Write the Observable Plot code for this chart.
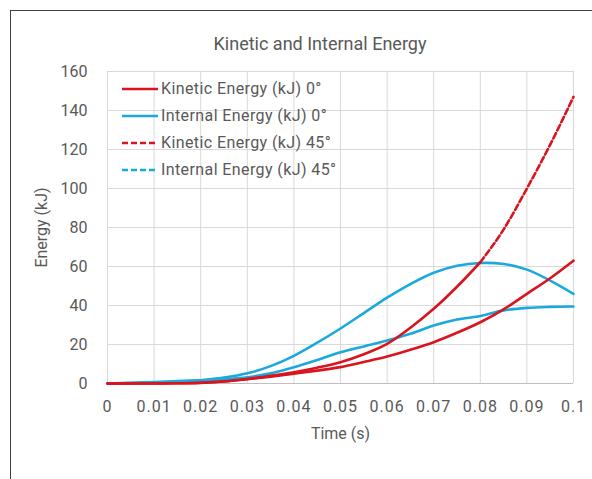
<!DOCTYPE html>
<html>
<head>
<meta charset="utf-8">
<script src="https://cdn.jsdelivr.net/npm/d3@7"></script>
<script src="https://cdn.jsdelivr.net/npm/@observablehq/plot@0.6"></script>
<style>
  html, body { margin: 0; padding: 0; background: #fff; overflow: hidden; }
  #wrap { position: relative; width: 592px; height: 479px; font-family: Roboto, "Noto Sans", sans-serif; color: #595959; }
  #frame { position: absolute; left: 10px; top: 10px; width: 600px; height: 500px; border: 1.5px solid #404040; box-sizing: border-box; }
  #title { position: absolute; left: 0; width: 640px; top: 33px; text-align: center; font-size: 18px; color: #595959; }
  #legend { position: absolute; left: 122px; top: 75px; font-size: 16px; letter-spacing: 0.4px; color: #595959; }
  .row { height: 27px; display: flex; align-items: center; white-space: nowrap; }
  .row svg { margin-right: 3px; }
  #chart { position: absolute; left: 0; top: 0; }
  #chart svg g[aria-label="x-axis tick label"] text { letter-spacing: 1px; }
</style>
</head>
<body>
<div id="wrap">
  <div id="chart"></div>
  <div id="frame"></div>
  <div id="title">Kinetic and Internal Energy</div>
  <div id="legend"></div>
</div>
<script>
const time = [0,0.005,0.01,0.015,0.02,0.025,0.03,0.035,0.04,0.045,0.05,0.055,0.06,0.065,0.07,0.075,0.08,0.085,0.09,0.095,0.1];
const kinetic0   = [0,0,0,0.1,0.4,1.1,2.2,3.5,5,6.6,8.4,11,13.8,17.3,21.2,26,31.4,38,46,54,63];
const internal0  = [0,0.2,0.5,1,1.7,3,5.2,8.9,14.2,20.9,28.2,36.1,44,51,56.8,60.4,61.8,61.3,58.4,52.8,46];
const kinetic45  = [0,0,0,0.1,0.3,1,2.3,3.9,5.8,8.1,10.9,15,20.3,28.6,38.3,49.6,62.2,79,100,122.5,147];
const internal45 = [0,0.3,0.8,1.2,1.6,2.2,3.2,5.2,8.3,12,16,19,22,25.5,29.7,32.8,34.6,37.5,38.8,39.3,39.5];
const seriesNames = ["Kinetic Energy (kJ) 0°","Internal Energy (kJ) 0°","Kinetic Energy (kJ) 45°","Internal Energy (kJ) 45°"];
const xTicks = [0,0.01,0.02,0.03,0.04,0.05,0.06,0.07,0.08,0.09,0.1];
const xTickLabels = ["0","0.01","0.02","0.03","0.04","0.05","0.06","0.07","0.08","0.09","0.1"];
const yTicks = [0,20,40,60,80,100,120,140,160];
const dashStart = 0.08;

const RED = "#d9141e", BLUE = "#1ba9dd";
const toRows = arr => time.map((t, i) => ({t, v: arr[i]}));
const k0 = toRows(kinetic0), i0 = toRows(internal0), k45 = toRows(kinetic45), i45 = toRows(internal45);

const chart = Plot.plot({
  width: 592, height: 479,
  marginLeft: 107, marginRight: 19, marginTop: 71, marginBottom: 96,
  style: { fontFamily: "Roboto, 'Noto Sans', sans-serif", fontSize: "16px", color: "#595959", background: "transparent" },
  x: { domain: [0, 0.1] },
  y: { domain: [0, 160] },
  marks: [
    Plot.gridX(xTicks, { stroke: "#d9d9d9", strokeOpacity: 1, strokeWidth: 1 }),
    Plot.gridY(yTicks, { stroke: "#d9d9d9", strokeOpacity: 1, strokeWidth: 1 }),
    Plot.ruleY([0], { stroke: "#bfbfbf", strokeWidth: 1.2 }),
    Plot.line(i45, { x: "t", y: "v", stroke: BLUE, strokeWidth: 2.6, curve: "monotone-x" }),
    Plot.line(i0, { x: "t", y: "v", stroke: BLUE, strokeWidth: 2.6, curve: "catmull-rom" }),
    Plot.line(k0, { x: "t", y: "v", stroke: RED, strokeWidth: 2.6, curve: "monotone-x" }),
    Plot.line(k45.filter(d => d.t <= dashStart), { x: "t", y: "v", stroke: RED, strokeWidth: 2.6, curve: "monotone-x" }),
    Plot.line(k45.filter(d => d.t >= dashStart), { x: "t", y: "v", stroke: RED, strokeWidth: 2.6, strokeDasharray: "6,3", curve: "monotone-x" }),
    Plot.axisX(xTicks, { tickSize: 0, tickPadding: 17, tickFormat: (d, i) => xTickLabels[i], label: "Time (s)", labelAnchor: "center", labelArrow: "none", labelOffset: 55 }),
    Plot.axisY(yTicks, { tickSize: 0, tickPadding: 20, label: "Energy (kJ)", labelAnchor: "center", labelArrow: "none", labelOffset: 72 })
  ]
});
document.getElementById("chart").appendChild(chart);

const legend = document.getElementById("legend");
const styles = [
  { color: RED, dash: null }, { color: BLUE, dash: null },
  { color: RED, dash: "6,3" }, { color: BLUE, dash: "6,3" }
];
seriesNames.forEach((name, i) => {
  const row = document.createElement("div");
  row.className = "row";
  const s = styles[i];
  row.innerHTML = `<svg width="36" height="10"><line x1="0" y1="5" x2="36" y2="5" stroke="${s.color}" stroke-width="2.6" ${s.dash ? `stroke-dasharray="${s.dash}"` : ""}/></svg><span>${name}</span>`;
  legend.appendChild(row);
});
</script>
</body>
</html>
